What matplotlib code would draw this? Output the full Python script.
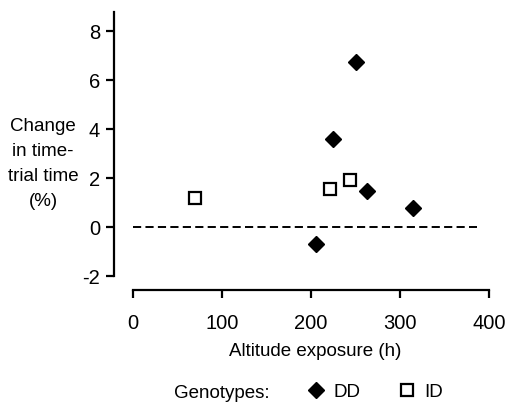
import matplotlib
matplotlib.use("Agg")
import matplotlib.pyplot as plt
from matplotlib import font_manager as fm

names = {f.name for f in fm.fontManager.ttflist}
fam = ["Liberation Sans Narrow", "Liberation Sans", "DejaVu Sans"]
fam = [f for f in fam if f in names] or ["DejaVu Sans"]
plt.rcParams['font.family'] = fam
plt.rcParams['axes.unicode_minus'] = False

# Data
dd_hours = [250, 225, 206, 263, 315]
dd_change = [6.73, 3.6, -0.7, 1.47, 0.78]
id_hours = [70, 221, 244]
id_change = [1.17, 1.55, 1.92]
x_ticks = [0, 100, 200, 300, 400]
y_ticks = [-2, 0, 2, 4, 6, 8]
ref_x = [0, 387]
ref_y = [0, 0]

W, H = 506, 404
fig = plt.figure(figsize=(W / 100, H / 100), dpi=100)
left_px, right_px, top_px, bot_px = 114, 493.5, 12, 290
ax = fig.add_axes([left_px / W, (H - bot_px) / H, (right_px - left_px) / W, (bot_px - top_px) / H])
ax.set_xlim(-21.3, 405)
ax.set_ylim(-2.57, 8.78)

ax.plot(ref_x, ref_y, ls=(0, (4.2, 2.2)), color='black', lw=1.4, zorder=1)
ax.plot(dd_hours, dd_change, ls='none', marker='D', ms=8.6, mfc='black', mec='black', label='DD', zorder=3)
ax.plot(id_hours, id_change, ls='none', marker='s', ms=8.6, mfc='white', mec='black', mew=1.6, label='ID', zorder=3)

for s in ['top', 'right']:
    ax.spines[s].set_visible(False)
ax.spines['left'].set_bounds(-2, 8.78)
ax.spines['bottom'].set_bounds(0, 400)
ax.spines['left'].set_linewidth(1.6)
ax.spines['bottom'].set_linewidth(1.6)
ax.set_xticks(x_ticks)
ax.set_yticks(y_ticks)
ax.tick_params(axis='both', direction='out', length=6, width=1.6, labelsize=14.5)
ax.tick_params(axis='y', pad=4)
ax.tick_params(axis='x', pad=11)

fig.text(43 / W, 1 - 164 / H, "Change\nin time-\ntrial time\n(%)", ha='center', va='center',
         fontsize=13.5, linespacing=1.6)
fig.text(315 / W, 1 - 352 / H, "Altitude exposure (h)", ha='center', va='center', fontsize=13.5)
fig.text(222 / W, 1 - 393 / H, "Genotypes:", ha='center', va='center', fontsize=13.5)
fig.legend(loc='center left', bbox_to_anchor=(307 / W, 1 - 392 / H), ncol=2, frameon=False,
           fontsize=13.5, handlelength=1.0, handletextpad=0.4, columnspacing=2.0, borderpad=0,
           borderaxespad=0)

fig.savefig("out.png", dpi=100)
